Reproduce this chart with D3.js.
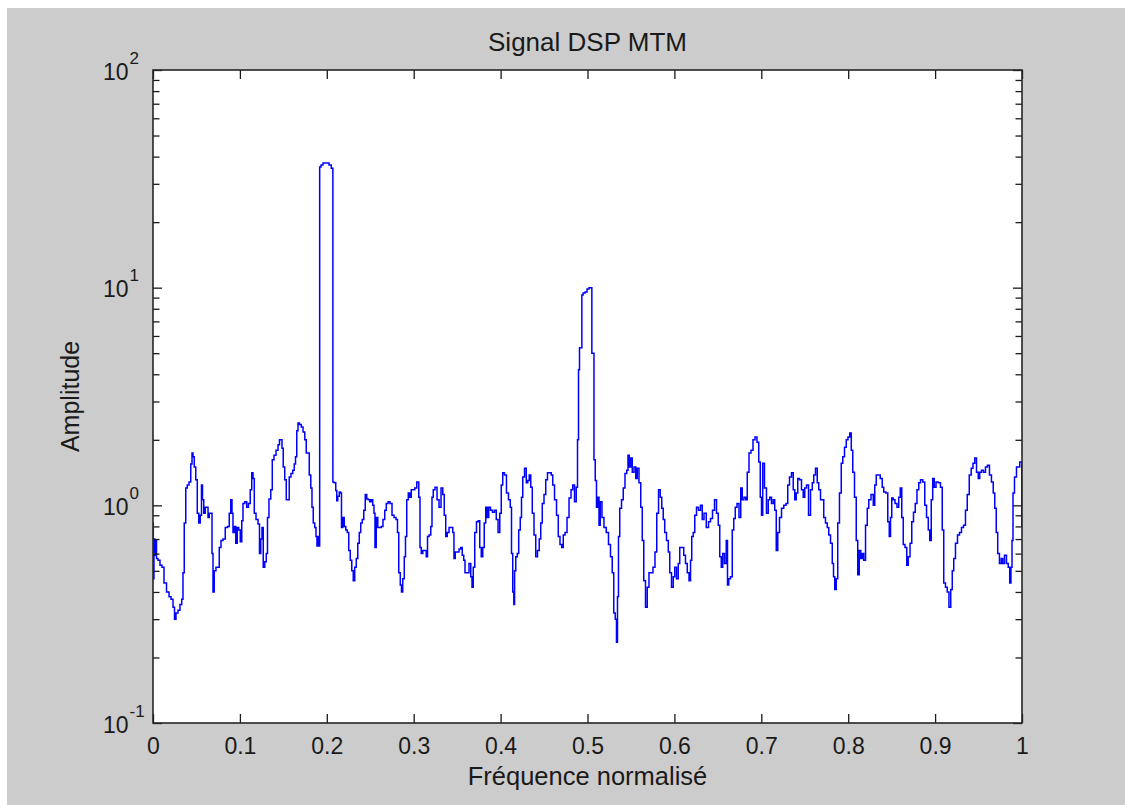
<!DOCTYPE html>
<html>
<head>
<meta charset="utf-8">
<script src="https://cdn.jsdelivr.net/npm/d3@7"></script>
<style>
  body { margin: 0; background: #fff; }
  svg { display: block; font-family: "Liberation Sans", Arial, sans-serif; }
</style>
</head>
<body>
<svg id="chart" width="1125" height="805"></svg>
<script>
// normalised frequency / amplitude
const freq = [
  0.0000, 0.0007, 0.0015, 0.0025, 0.0035, 0.0046, 0.0069, 0.0092, 0.0115, 0.0138,
  0.0173, 0.0196, 0.0219, 0.0242, 0.0253, 0.0276, 0.0299, 0.0322, 0.0339, 0.0351,
  0.0368, 0.0386, 0.0403, 0.0426, 0.0443, 0.0455, 0.0466, 0.0483, 0.0501, 0.0518,
  0.0535, 0.0552, 0.0564, 0.0575, 0.0593, 0.0610, 0.0627, 0.0639, 0.0656, 0.0673,
  0.0685, 0.0696, 0.0713, 0.0736, 0.0754, 0.0771, 0.0794, 0.0817, 0.0846, 0.0869,
  0.0886, 0.0903, 0.0915, 0.0926, 0.0944, 0.0961, 0.0978, 0.0995, 0.1013, 0.1030,
  0.1041, 0.1070, 0.1087, 0.1110, 0.1128, 0.1145, 0.1157, 0.1174, 0.1197, 0.1220,
  0.1231, 0.1249, 0.1260, 0.1277, 0.1295, 0.1312, 0.1323, 0.1346, 0.1364, 0.1381,
  0.1404, 0.1427, 0.1450, 0.1461, 0.1479, 0.1490, 0.1507, 0.1525, 0.1542, 0.1559,
  0.1576, 0.1600, 0.1617, 0.1634, 0.1646, 0.1663, 0.1674, 0.1697, 0.1715, 0.1738,
  0.1755, 0.1772, 0.1789, 0.1807, 0.1824, 0.1835, 0.1853, 0.1870, 0.1881, 0.1893,
  0.1904, 0.1914, 0.1922, 0.1945, 0.1968, 0.2014, 0.2037, 0.2066, 0.2074, 0.2094,
  0.2112, 0.2117, 0.2135, 0.2152, 0.2163, 0.2175, 0.2192, 0.2209, 0.2227, 0.2244,
  0.2261, 0.2279, 0.2296, 0.2313, 0.2330, 0.2348, 0.2365, 0.2382, 0.2399, 0.2417,
  0.2434, 0.2451, 0.2468, 0.2486, 0.2503, 0.2520, 0.2537, 0.2549, 0.2560, 0.2578,
  0.2595, 0.2618, 0.2635, 0.2658, 0.2676, 0.2693, 0.2716, 0.2739, 0.2762, 0.2785,
  0.2808, 0.2819, 0.2837, 0.2854, 0.2865, 0.2883, 0.2900, 0.2911, 0.2929, 0.2946,
  0.2963, 0.2980, 0.3003, 0.3021, 0.3050, 0.3067, 0.3078, 0.3096, 0.3113, 0.3136,
  0.3153, 0.3165, 0.3188, 0.3205, 0.3216, 0.3234, 0.3257, 0.3280, 0.3303, 0.3326,
  0.3343, 0.3360, 0.3377, 0.3395, 0.3418, 0.3441, 0.3458, 0.3469, 0.3487, 0.3510,
  0.3533, 0.3550, 0.3567, 0.3585, 0.3596, 0.3625, 0.3648, 0.3665, 0.3677, 0.3694,
  0.3711, 0.3734, 0.3751, 0.3769, 0.3786, 0.3803, 0.3820, 0.3838, 0.3855, 0.3872,
  0.3895, 0.3918, 0.3941, 0.3959, 0.3982, 0.3999, 0.4016, 0.4033, 0.4056, 0.4079,
  0.4102, 0.4120, 0.4131, 0.4148, 0.4156, 0.4166, 0.4183, 0.4200, 0.4217, 0.4235,
  0.4246, 0.4264, 0.4287, 0.4304, 0.4321, 0.4338, 0.4356, 0.4373, 0.4396, 0.4413,
  0.4436, 0.4453, 0.4471, 0.4488, 0.4511, 0.4528, 0.4551, 0.4574, 0.4591, 0.4609,
  0.4632, 0.4655, 0.4672, 0.4695, 0.4712, 0.4730, 0.4753, 0.4776, 0.4799, 0.4822,
  0.4839, 0.4862, 0.4879, 0.4891, 0.4902, 0.4914, 0.4931, 0.4939, 0.4960, 0.4983,
  0.5006, 0.5029, 0.5046, 0.5054, 0.5069, 0.5080, 0.5098, 0.5109, 0.5127, 0.5138,
  0.5155, 0.5178, 0.5201, 0.5230, 0.5253, 0.5276, 0.5293, 0.5311, 0.5328, 0.5339,
  0.5351, 0.5362, 0.5380, 0.5403, 0.5420, 0.5443, 0.5460, 0.5472, 0.5489, 0.5506,
  0.5524, 0.5547, 0.5564, 0.5581, 0.5604, 0.5621, 0.5639, 0.5656, 0.5679, 0.5696,
  0.5719, 0.5742, 0.5765, 0.5788, 0.5806, 0.5829, 0.5846, 0.5863, 0.5880, 0.5897,
  0.5921, 0.5938, 0.5955, 0.5978, 0.5995, 0.6013, 0.6036, 0.6053, 0.6070, 0.6099,
  0.6116, 0.6139, 0.6157, 0.6180, 0.6191, 0.6208, 0.6226, 0.6243, 0.6266, 0.6289,
  0.6312, 0.6329, 0.6352, 0.6381, 0.6404, 0.6427, 0.6450, 0.6473, 0.6496, 0.6513,
  0.6531, 0.6548, 0.6565, 0.6588, 0.6605, 0.6617, 0.6634, 0.6657, 0.6674, 0.6692,
  0.6709, 0.6732, 0.6755, 0.6772, 0.6789, 0.6812, 0.6830, 0.6847, 0.6870, 0.6893,
  0.6916, 0.6939, 0.6962, 0.6979, 0.6997, 0.7008, 0.7025, 0.7048, 0.7071, 0.7089,
  0.7106, 0.7129, 0.7146, 0.7163, 0.7181, 0.7198, 0.7221, 0.7244, 0.7273, 0.7296,
  0.7313, 0.7336, 0.7359, 0.7376, 0.7394, 0.7411, 0.7428, 0.7451, 0.7474, 0.7491,
  0.7509, 0.7532, 0.7555, 0.7578, 0.7595, 0.7612, 0.7635, 0.7652, 0.7670, 0.7693,
  0.7710, 0.7727, 0.7750, 0.7768, 0.7785, 0.7808, 0.7825, 0.7837, 0.7854, 0.7871,
  0.7888, 0.7911, 0.7929, 0.7946, 0.7969, 0.7986, 0.8009, 0.8027, 0.8044, 0.8061,
  0.8084, 0.8101, 0.8119, 0.8136, 0.8153, 0.8170, 0.8188, 0.8211, 0.8228, 0.8245,
  0.8280, 0.8297, 0.8314, 0.8331, 0.8354, 0.8383, 0.8400, 0.8418, 0.8447, 0.8464,
  0.8481, 0.8493, 0.8510, 0.8527, 0.8550, 0.8573, 0.8590, 0.8608, 0.8625, 0.8642,
  0.8665, 0.8683, 0.8700, 0.8723, 0.8740, 0.8763, 0.8780, 0.8803, 0.8821, 0.8844,
  0.8872, 0.8890, 0.8913, 0.8930, 0.8947, 0.8964, 0.8981, 0.8999, 0.9022, 0.9050,
  0.9073, 0.9091, 0.9108, 0.9131, 0.9148, 0.9171, 0.9189, 0.9206, 0.9223, 0.9246,
  0.9269, 0.9292, 0.9315, 0.9338, 0.9361, 0.9379, 0.9407, 0.9424, 0.9448, 0.9465,
  0.9488, 0.9505, 0.9522, 0.9545, 0.9568, 0.9591, 0.9614, 0.9637, 0.9660, 0.9678,
  0.9695, 0.9712, 0.9729, 0.9752, 0.9770, 0.9787, 0.9810, 0.9833, 0.9850, 0.9867,
  0.9879, 0.9891, 0.9902, 0.9925, 0.9948, 0.9965, 0.9983, 0.9994, 1.0000
];

const amplitude = [
  0.83, 0.46, 0.70, 0.59, 0.69, 0.57, 0.56, 0.53, 0.52, 0.44,
  0.40, 0.38, 0.37, 0.34, 0.30, 0.32, 0.33, 0.35, 0.37, 0.49,
  0.83, 1.20, 1.24, 1.28, 1.55, 1.74, 1.67, 1.50, 1.31, 0.92,
  0.83, 0.90, 1.24, 1.06, 0.92, 0.98, 0.98, 0.88, 0.92, 0.92,
  0.60, 0.40, 0.50, 0.52, 0.52, 0.64, 0.69, 0.70, 0.79, 0.80,
  0.92, 1.06, 0.92, 0.75, 0.80, 0.67, 0.79, 0.77, 0.68, 0.85,
  1.02, 1.04, 0.98, 1.02, 1.18, 1.41, 1.33, 0.92, 0.86, 0.82,
  0.60, 0.70, 0.79, 0.52, 0.55, 0.60, 0.88, 1.07, 1.18, 1.62,
  1.70, 1.79, 1.90, 2.00, 2.00, 1.83, 1.50, 1.31, 1.06, 1.06,
  1.35, 1.40, 1.45, 1.55, 1.67, 2.20, 2.39, 2.35, 2.29, 2.17,
  2.00, 1.74, 1.74, 1.38, 1.20, 0.98, 0.83, 0.79, 0.72, 0.65,
  0.72, 0.65, 35.8, 36.6, 37.4, 37.4, 36.6, 35.4, 1.28, 1.27,
  1.17, 1.05, 1.10, 1.15, 1.14, 0.79, 0.88, 0.80, 0.77, 0.75,
  0.62, 0.56, 0.50, 0.45, 0.52, 0.57, 0.67, 0.75, 0.83, 0.86,
  0.95, 1.12, 1.07, 1.06, 1.04, 1.06, 1.00, 0.92, 0.64, 0.88,
  0.79, 0.79, 0.80, 0.86, 0.95, 1.02, 1.04, 1.02, 0.90, 0.88,
  0.86, 0.75, 0.49, 0.43, 0.40, 0.46, 0.58, 0.72, 1.06, 1.14,
  1.09, 1.18, 1.18, 1.20, 1.28, 1.09, 0.64, 0.60, 0.62, 0.62,
  0.58, 0.72, 0.73, 0.80, 1.09, 1.18, 1.21, 1.06, 0.98, 1.20,
  1.12, 0.90, 0.72, 0.75, 0.79, 0.79, 0.75, 0.57, 0.61, 0.61,
  0.63, 0.64, 0.59, 0.56, 0.49, 0.49, 0.54, 0.47, 0.42, 0.52,
  0.75, 0.84, 0.85, 0.64, 0.58, 0.64, 0.83, 0.98, 0.88, 0.98,
  0.95, 0.93, 0.95, 0.86, 0.75, 0.92, 1.24, 1.41, 1.38, 1.14,
  1.06, 0.98, 0.60, 0.40, 0.35, 0.50, 0.58, 0.60, 0.77, 0.88,
  1.09, 1.35, 1.48, 1.27, 1.30, 1.38, 1.21, 0.92, 0.73, 0.58,
  0.62, 0.70, 0.83, 1.02, 1.12, 1.31, 1.41, 1.41, 1.38, 1.24,
  1.06, 0.90, 0.72, 0.66, 0.64, 0.73, 0.75, 0.88, 1.08, 1.18,
  1.24, 1.04, 1.21, 2.0, 4.2, 5.3, 5.3, 9.25, 9.45, 9.55,
  9.85, 10.0, 10.0, 5.0, 5.0, 1.62, 1.30, 0.98, 1.09, 0.81,
  1.04, 0.88, 0.79, 0.75, 0.66, 0.58, 0.49, 0.32, 0.30, 0.235,
  0.38, 0.72, 0.97, 1.06, 1.20, 1.40, 1.45, 1.70, 1.50, 1.65,
  1.42, 1.50, 1.33, 1.48, 1.27, 0.98, 0.69, 0.45, 0.34, 0.42,
  0.49, 0.49, 0.52, 0.61, 0.92, 1.18, 1.09, 0.97, 0.86, 0.75,
  0.69, 0.61, 0.49, 0.42, 0.47, 0.52, 0.46, 0.54, 0.64, 0.64,
  0.59, 0.54, 0.49, 0.45, 0.56, 0.72, 0.75, 0.90, 0.98, 0.95,
  1.00, 0.86, 0.92, 0.79, 0.84, 0.87, 0.95, 1.06, 0.92, 0.81,
  0.58, 0.52, 0.60, 0.54, 0.69, 0.43, 0.46, 0.47, 0.77, 0.87,
  0.98, 1.02, 0.88, 1.20, 1.06, 1.09, 1.06, 1.42, 1.74, 1.79,
  2.00, 2.06, 1.95, 1.58, 1.09, 0.90, 1.56, 1.20, 0.92, 1.06,
  1.09, 1.02, 1.06, 0.95, 0.62, 0.75, 0.88, 0.97, 1.00, 1.02,
  1.24, 1.35, 1.41, 1.18, 1.06, 1.14, 1.33, 1.31, 1.18, 1.09,
  1.20, 1.24, 0.90, 1.18, 1.27, 1.38, 1.48, 1.27, 1.18, 1.06,
  1.06, 0.88, 0.83, 0.79, 0.73, 0.67, 0.54, 0.47, 0.41, 0.46,
  0.83, 1.14, 1.56, 1.67, 1.85, 2.00, 2.06, 2.15, 1.79, 1.42,
  1.09, 0.69, 0.48, 0.62, 0.57, 0.60, 0.56, 0.81, 0.97, 1.06,
  1.12, 1.00, 1.24, 1.38, 1.38, 1.33, 1.21, 1.15, 1.14, 0.84,
  0.72, 0.88, 1.08, 1.06, 1.02, 0.98, 1.09, 1.20, 0.88, 0.66,
  0.64, 0.53, 0.58, 0.67, 0.84, 0.93, 1.02, 1.18, 1.27, 1.31,
  1.28, 1.00, 0.88, 0.77, 0.69, 1.06, 1.33, 1.21, 1.28, 1.27,
  1.21, 0.77, 0.44, 0.42, 0.40, 0.34, 0.41, 0.50, 0.57, 0.67,
  0.73, 0.75, 0.79, 0.81, 0.95, 1.12, 1.38, 1.48, 1.56, 1.65,
  1.42, 1.33, 1.42, 1.45, 1.42, 1.50, 1.53, 1.38, 1.28, 1.14,
  0.97, 0.75, 0.60, 0.54, 0.57, 0.54, 0.59, 0.54, 0.52, 0.44,
  0.52, 0.69, 1.14, 1.35, 1.50, 1.50, 1.58, 1.58, 0.81
];

const xTicks = [0, 0.1, 0.2, 0.3, 0.4, 0.5, 0.6, 0.7, 0.8, 0.9, 1];
const xTickLabels = ["0", "0.1", "0.2", "0.3", "0.4", "0.5", "0.6", "0.7", "0.8", "0.9", "1"];
const yDecades = [0.1, 1, 10, 100];
const yExponents = ["-1", "0", "1", "2"];

const titleText = "Signal DSP MTM";
const xLabelText = "Fréquence normalisé";
const yLabelText = "Amplitude";

const W = 1125, H = 805;
const plotL = 153, plotR = 1022, plotT = 70, plotB = 723;
const ink = "#1a1a1a";

const svg = d3.select("#chart");

svg.append("rect").attr("x", 0).attr("y", 0).attr("width", W).attr("height", H).attr("fill", "#fff");
svg.append("rect").attr("x", 7).attr("y", 8).attr("width", W - 7).attr("height", H - 8).attr("fill", "#cccccc");
svg.append("rect")
  .attr("x", plotL).attr("y", plotT)
  .attr("width", plotR - plotL).attr("height", plotB - plotT)
  .attr("fill", "#fff");

const x = d3.scaleLinear().domain([0, 1]).range([plotL, plotR]);
const y = d3.scaleLog().domain([0.1, 100]).range([plotB, plotT]);

svg.append("clipPath").attr("id", "plotClip")
  .append("rect")
  .attr("x", plotL).attr("y", plotT)
  .attr("width", plotR - plotL).attr("height", plotB - plotT);

// staircase look of the dense spectrum
const line = d3.line()
  .curve(d3.curveStep)
  .x((d, i) => x(freq[i]))
  .y(d => y(d));

svg.append("path")
  .datum(amplitude)
  .attr("clip-path", "url(#plotClip)")
  .attr("fill", "none")
  .attr("stroke", "#0000ff")
  .attr("stroke-width", 1.5)
  .attr("d", line);

// ticks point inward, MATLAB style
const minorTicks = y.ticks().filter(v => !yDecades.some(d => Math.abs(d - v) < 1e-9));

function tidy(g) {
  g.select(".domain").remove();
  g.attr("color", ink);
  g.selectAll(".tick line").attr("stroke-width", 1.3);
}

svg.append("g")
  .attr("transform", `translate(0,${plotB})`)
  .call(d3.axisBottom(x).tickValues(xTicks).tickSizeInner(-9).tickSizeOuter(0)
    .tickPadding(15).tickFormat((d, i) => xTickLabels[i]))
  .call(tidy)
  .call(g => g.selectAll(".tick text").attr("font-size", 23).attr("fill", ink));

svg.append("g")
  .attr("transform", `translate(0,${plotT})`)
  .call(d3.axisTop(x).tickValues(xTicks).tickSizeInner(-9).tickSizeOuter(0).tickFormat(""))
  .call(tidy);

svg.append("g")
  .attr("transform", `translate(${plotL},0)`)
  .call(d3.axisLeft(y).tickValues(yDecades).tickSizeInner(-9).tickSizeOuter(0).tickFormat(""))
  .call(tidy);

svg.append("g")
  .attr("transform", `translate(${plotL},0)`)
  .call(d3.axisLeft(y).tickValues(minorTicks).tickSizeInner(-6.5).tickSizeOuter(0).tickFormat(""))
  .call(tidy);

svg.append("g")
  .attr("transform", `translate(${plotR},0)`)
  .call(d3.axisRight(y).tickValues(yDecades).tickSizeInner(-9).tickSizeOuter(0).tickFormat(""))
  .call(tidy);

svg.append("g")
  .attr("transform", `translate(${plotR},0)`)
  .call(d3.axisRight(y).tickValues(minorTicks).tickSizeInner(-6.5).tickSizeOuter(0).tickFormat(""))
  .call(tidy);

// y tick labels: 10^n
const yLab = svg.append("g").attr("fill", ink);
yDecades.forEach((d, i) => {
  const t = yLab.append("text")
    .attr("x", 103)
    .attr("y", y(d) + 9.5)
    .attr("font-size", 23);
  t.append("tspan").text("10");
  t.append("tspan").attr("dy", -16).attr("dx", 1).attr("font-size", 17).text(yExponents[i]);
});

// axes box
svg.append("rect")
  .attr("x", plotL).attr("y", plotT)
  .attr("width", plotR - plotL).attr("height", plotB - plotT)
  .attr("fill", "none")
  .attr("stroke", "#262626")
  .attr("stroke-width", 1.6);

svg.append("text")
  .attr("x", (plotL + plotR) / 2).attr("y", 51)
  .attr("text-anchor", "middle")
  .attr("font-size", 26)
  .attr("fill", ink)
  .text(titleText);

svg.append("text")
  .attr("x", (plotL + plotR) / 2).attr("y", 785)
  .attr("text-anchor", "middle")
  .attr("font-size", 25.5)
  .attr("fill", ink)
  .text(xLabelText);

svg.append("text")
  .attr("transform", `translate(79,${(plotT + plotB) / 2}) rotate(-90)`)
  .attr("text-anchor", "middle")
  .attr("font-size", 25)
  .attr("fill", ink)
  .text(yLabelText);
</script>
</body>
</html>
